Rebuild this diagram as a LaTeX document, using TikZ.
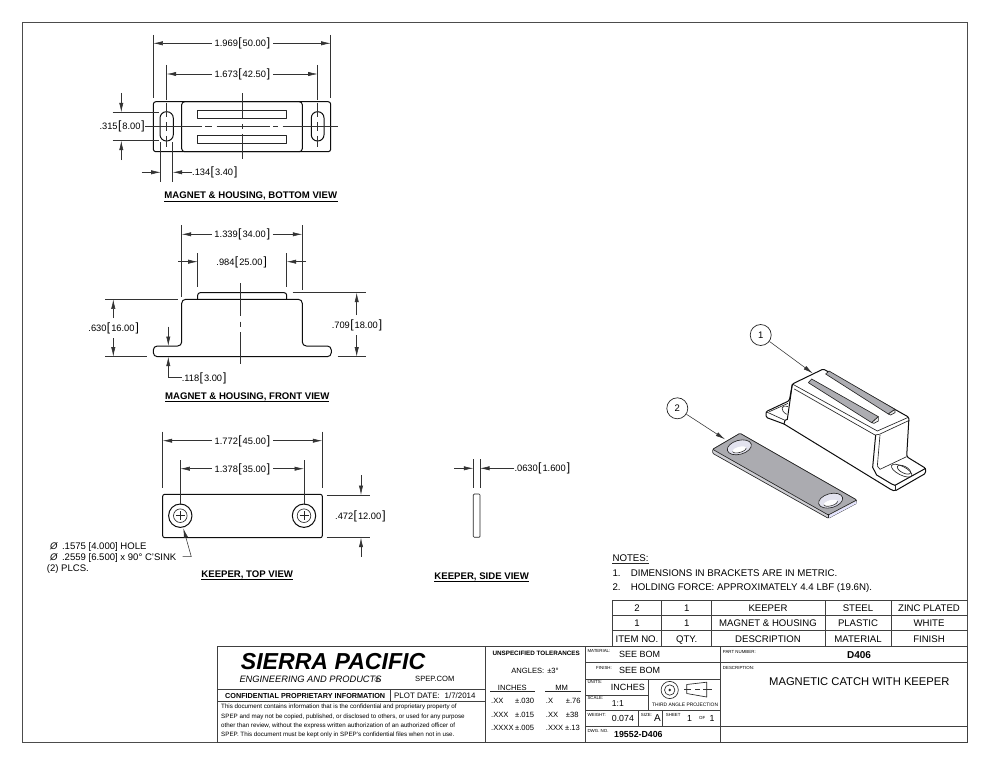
\documentclass[tikz,border=0pt]{standalone}
\usepackage{fontspec}
\setmainfont{Liberation Sans}
\usetikzlibrary{arrows.meta,calc}
\newcommand{\fsz}[1]{\fontsize{#1}{#1}\selectfont}
\newcommand{\dmt}[2]{#1\kern.4pt{\fsz{12}[}\kern1pt #2\kern1pt{\fsz{12}]}}
\definecolor{plate}{HTML}{ABABB0}
\definecolor{plateside}{HTML}{CFCFD4}
\definecolor{bore}{HTML}{E2E2EE}
\definecolor{rail}{HTML}{ADADB2}
\tikzset{
  lab/.style={inner sep=0pt,text=black},
  dimtxt/.style={lab,font=\fsz{9.3}},
  part/.style={draw=black!95,line width=1pt,line join=round},
  thin part/.style={draw=black!85,line width=0.65pt,line join=round},
  ext/.style={draw=black!80,line width=0.55pt},
  arr/.style={draw=black!80,line width=0.55pt,-{Latex[length=9.5pt,width=4.2pt]}},
  cl/.style={draw=black!80,line width=0.55pt},
  grid/.style={draw=black!75,line width=0.85pt},
  title/.style={draw=black,line width=0.9pt},
}
% name, size, anchor, x, y(centre of capitals), text
\newcommand{\lab}[6]{\node[lab,anchor=#3,font=\fsz{#2}] (#1) at ({#4},{#5+0.36*#2}) {#6};}
% horizontal dimension: name, inch, mm, text centre x, y, left end, right end
\newcommand{\dimh}[7]{%
  \node[dimtxt,anchor=base] (#1) at ({#4},{#5+3.3}) {\dmt{#2}{#3}};
  \coordinate (#1-l) at (#6,#5); \coordinate (#1-r) at (#7,#5);
  \draw[arr] ($(#1.west |- #1-l)+(-2.5,0)$) -- (#1-l);
  \draw[arr] ($(#1.east |- #1-r)+(2.5,0)$) -- (#1-r);}
% dimension text at an edge: name, inch, mm, anchor, x, y
\newcommand{\dimt}[6]{\node[dimtxt,anchor=#4] (#1) at ({#5},{#6+3.3}) {\dmt{#2}{#3}};}
\begin{document}
\begin{tikzpicture}[x=1pt,y=-1pt]
\useasboundingbox (0,0) rectangle (990,765);
\fill[white] (0,0) rectangle (990,765);
% sheet frame
\draw[draw=black!70,line width=0.9pt] (22,22) rectangle (967.5,742);

%% ---------- bottom view
\draw[part] [rounded corners=2.5pt] (153.3,101.7) rectangle (330.7,151.7);
\draw[part] [rounded corners=3pt] (181.7,101.7) rectangle (302.3,151.7);
\draw[thin part] (197.3,110.3) rectangle (286.3,118.3);
\draw[thin part] (197.3,135.3) rectangle (286.3,143.3);
\draw[part] [rounded corners=6.4pt] (160,111.7) rectangle (173.3,141);
\draw[part] [rounded corners=6.2pt] (311.3,111.7) rectangle (324,141);
\foreach \a/\b in {145/201.7,205/211.7,216.7/270,273.3/278.3,282.7/338} \draw[cl] (\a,126.7)--(\b,126.7);
\foreach \a/\b in {93.3/118,124/129,134/159.3} \draw[cl] (242.3,\a)--(242.3,\b);
\foreach \x in {166.7,317.7}{\foreach \a/\b in {102.7/117,122/131,136/146.7} \draw[cl] (\x,\a)--(\x,\b);}
\dimh{da}{1.969}{50.00}{242.5}{43.3}{153.3}{330.7}
\draw[ext] (153.3,35)--(153.3,98); \draw[ext] (330.7,35)--(330.7,98);
\dimh{db}{1.673}{42.50}{242.5}{74}{166.7}{317.7}
\draw[ext] (166.7,65)--(166.7,100); \draw[ext] (317.7,65)--(317.7,100);
\draw[ext] (112.7,112.3)--(159,112.3); \draw[ext] (112.7,140.7)--(159,140.7);
\coordinate (dc-t) at (121.3,93); \coordinate (dc-b) at (121.3,160);
\draw[arr] (dc-t)--(121.3,112.3); \draw[arr] (dc-b)--(121.3,140.7);
\dimt{dc}{.315}{8.00}{base east}{145}{126.7}
\draw[ext] (160.7,142)--(160.7,181.7); \draw[ext] (172.7,142)--(172.7,181.7);
\dimt{dd}{.134}{3.40}{base west}{192}{172.3}
\draw[arr] (141.7,172.3)--(160.7,172.3);
\draw[arr] (dd.west |- 0,172.3)--(172.7,172.3);
\lab{ta}{9.6}{base}{250.8}{195}{\bfseries MAGNET \& HOUSING, BOTTOM VIEW}
\draw[title] (164,201)--(337.7,201);

%% ---------- front view
\draw[part] [rounded corners=2.5pt] (197.7,299.3)--(197.7,292.7)--(286.7,292.7)--(286.7,299.3);
\draw[part] [rounded corners=4pt] (153.3,356.7)--(153.3,346)--(181.7,346)--(181.7,299.3)--(302.3,299.3)--(302.3,346)--(331.3,346)--(331.3,356.7)--cycle;
\foreach \a/\b in {283.3/316,321.7/326.7,332/364.3} \draw[cl] (240.3,\a)--(240.3,\b);
\dimh{de}{1.339}{34.00}{242.3}{234.3}{181.7}{302.3}
\draw[ext] (181.7,225)--(181.7,297.3); \draw[ext] (302.3,225)--(302.3,290);
\dimt{df}{.984}{25.00}{base}{241.7}{261.7}
\draw[arr] (178.3,261.7)--(197.7,261.7); \draw[arr] (306,261.7)--(286.7,261.7);
\draw[ext] (197.7,253.3)--(197.7,286.7); \draw[ext] (286.7,253.3)--(286.7,286.7);
\draw[ext] (105,299.3)--(178.3,299.3); \draw[ext] (105,356.7)--(146.7,356.7);
\dimt{dg}{.630}{16.00}{base}{113.7}{328.3}
\draw[arr] (113.3,318)--(113.3,299.3); \draw[arr] (113.3,338)--(113.3,356.7);
\draw[ext] (292.7,292.7)--(366,292.7); \draw[ext] (337.7,356.7)--(366,356.7);
\dimt{dh}{.709}{18.00}{base}{357}{325}
\draw[arr] (356.7,315)--(356.7,292.7); \draw[arr] (356.7,335)--(356.7,356.7);
\draw[arr] (168.3,326.7)--(168.3,346);
\dimt{di}{.118}{3.00}{base west}{181.7}{377.7}
\draw[arr] (di.west |- 0,377.5)--(168.3,377.5)--(168.3,356.7);
\lab{tb}{9.6}{base}{247.3}{395.7}{\bfseries MAGNET \& HOUSING, FRONT VIEW}
\draw[title] (165.3,401)--(329.3,401);

%% ---------- keeper, top view
\draw[part] [rounded corners=2pt] (162.7,494.3) rectangle (322.3,537.7);
\foreach \x in {180.3,304}{
  \draw[part] (\x,515.7) circle (11.7);
  \draw[thin part] (\x,515.7) circle (6.8);
  \draw[thin part] (\x-4.5,515.7)--(\x+4.5,515.7) (\x,511.2)--(\x,520.2);}
\dimh{dj}{1.772}{45.00}{242.5}{440.7}{162.7}{322.3}
\draw[ext] (162.7,431.7)--(162.7,488.3); \draw[ext] (322.3,431.7)--(322.3,488.3);
\dimh{dk}{1.378}{35.00}{242.5}{468.7}{180.3}{304}
\draw[ext] (180.3,460)--(180.3,505); \draw[ext] (304,460)--(304,505);
\draw[ext] (326.7,495)--(370,495); \draw[ext] (326.7,537.7)--(370,537.7);
\dimt{dl}{.472}{12.00}{base west}{335}{516.3}
\draw[arr] (361,475)--(361,495); \draw[arr] (361,556.7)--(361,537.7);
\lab{na}{9.55}{base west}{50}{545.7}{\textit{Ø}\kern4pt.1575 [4.000] HOLE}
\lab{nb}{9.55}{base west}{50}{556.7}{\textit{Ø}\kern4pt.2559 [6.500] x 90° C'SINK}
\lab{nc}{9.55}{base west}{46.7}{567.7}{(2) PLCS.}
\draw[arr] ($(nb.east |- 0,556.7)+(6,0)$)--(191.3,556.7)--(183.3,528.3);
\lab{tc}{9.6}{base}{247.2}{574}{\bfseries KEEPER, TOP VIEW}
\draw[title] (201,579.5)--(293.3,579.5);

%% ---------- keeper, side view
\draw[thin part] [rounded corners=1pt] (473.3,494) rectangle (480,537.3);
\draw[ext] (473.3,459.3)--(473.3,487.7); \draw[ext] (480,459.3)--(480,487.7);
\dimt{dm}{.0630}{1.600}{base west}{514.3}{468.3}
\draw[arr] (454,468.3)--(473.3,468.3); \draw[arr] (dm.west |- 0,468.3)--(480,468.3);
\lab{td}{9.6}{base}{481.7}{575.7}{\bfseries KEEPER, SIDE VIEW}
\draw[title] (434.3,581)--(529,581);

%% ---------- isometric magnet & housing (coordinates of a 3x crop)
\begin{scope}[shift={(760,360)},x=0.3333pt,y=-0.3333pt]
  \filldraw[part,fill=white,rounded corners=1.5pt] (18,155)--(88,122)--(97,72)--(190,27)--(447,172)--(440,290)--(497,325)--(497,340)--(405,393)--(395,390)--(72,192)--(18,172)--cycle;
  \draw[thin part] (97,72)--(352,213)--(445,172);
  \draw[thin part] (103,87)--(345,225)--(358,223)--(448,181);
  \draw[part] (347,225)--(338,322)--(350,345)--(395,372)--(405,376)--(497,325);
  \draw[thin part] (360,225)--(352,318)--(360,328)--(440,290);
  \draw[thin part] (405,376)--(405,393);
  \draw[part] (97,72)--(82,178)--(75,181)--(72,192);
  \draw[thin part] (18,155)--(75,181);
  \draw[thin part] (28,155)--(84,130);
  \draw[thin part] (84,140) .. controls (62,132) and (60,152) .. (80,163);
  \draw[thin part,rotate around={-27:(425,332)}] (425,332) ellipse (34 and 13);
  \draw[thin part,rotate around={-27:(432,329)}] (432,329) ellipse (22 and 10);
  % rails
  \filldraw[thin part,fill=rail] (197,42)--(207,33)--(405,148)--(385,162)--cycle;
  \filldraw[thin part,fill=black!8] (385,162)--(405,148)--(405,158)--(392,165)--cycle;
  \filldraw[thin part,fill=rail] (145,68)--(155,57)--(355,170)--(335,188)--cycle;
  \filldraw[thin part,fill=black!8] (335,188)--(355,170)--(355,183)--(342,190)--cycle;
\end{scope}

%% ---------- isometric keeper
\begin{scope}[shift={(660,390)},x=0.3333pt,y=-0.3333pt]
  \filldraw[thin part,fill=plateside,rounded corners=1pt] (158,178)--(158,190)--(505,385)--(590,340)--(590,330)--(240,130)--cycle;
  \filldraw[thin part,fill=plate,rounded corners=1pt] (158,178)--(240,130)--(590,330)--(505,375)--cycle;
  \fill[blue!10!white] (510,375)--(590,334)--(590,340)--(505,385)--cycle;
  \draw[thin part] (505,375)--(505,385);
  \foreach \cx/\cy in {238/172,512/332}{
    \filldraw[thin part,fill=bore,rotate around={15:(\cx,\cy)}] (\cx,\cy) ellipse (37 and 21);
    \fill[white,rotate around={15:(\cx,\cy+7)}] (\cx,\cy+7) ellipse (21 and 8.5);
    \draw[black!80,line width=0.6pt,rotate around={15:(\cx,\cy+7)}] (\cx-21,\cy+7) arc (180:360:21 and -8.5);}
\end{scope}

%% ---------- balloons
\node[draw=black!85,line width=0.7pt,circle,minimum size=21pt,inner sep=0pt,text=black,font=\fsz{9.5}] (bal1) at (760.7,335) {1};
\node[draw=black!85,line width=0.7pt,circle,minimum size=21pt,inner sep=0pt,text=black,font=\fsz{9.5}] (bal2) at (677.3,408.3) {2};
\coordinate (tip1) at (812.7,373.3);
\coordinate (tip2) at (725,439.3);
\draw[arr] (bal1)--(tip1);
\draw[arr] (bal2)--(tip2);

%% ---------- notes
\lab{n0}{9.7}{base west}{612.3}{558.3}{NOTES:}
\draw[black!85,line width=0.5pt] (612.3,563.2)--(648.6,563.2);
\lab{n1}{9.7}{base west}{612.3}{572.7}{1.}
\lab{n1t}{9.7}{base west}{630.7}{572.7}{DIMENSIONS IN BRACKETS ARE IN METRIC.}
\lab{n2}{9.7}{base west}{612.3}{586.7}{2.}
\lab{n2t}{9.7}{base west}{630.7}{586.7}{HOLDING FORCE: APPROXIMATELY 4.4 LBF (19.6N).}

%% ---------- bill of materials
\draw[grid] (612.3,600)--(967.5,600) (612.3,615.3)--(967.5,615.3) (612.3,630.7)--(967.5,630.7);
\draw[grid] (612.3,600)--(612.3,646) (661.7,600)--(661.7,646) (711.7,600)--(711.7,646) (825,600)--(825,646) (891.7,600)--(891.7,646);
\lab{b11}{9.6}{base}{637}{607.7}{2}
\lab{b12}{9.6}{base}{686.7}{607.7}{1}
\lab{b13}{9.6}{base}{768}{607.7}{KEEPER}
\lab{b14}{9.6}{base}{858}{607.7}{STEEL}
\lab{b15}{9.6}{base}{929}{607.7}{ZINC PLATED}
\lab{b21}{9.6}{base}{637}{623}{1}
\lab{b22}{9.6}{base}{686.7}{623}{1}
\lab{b23}{9.6}{base}{768}{623}{MAGNET \& HOUSING}
\lab{b24}{9.6}{base}{858}{623}{PLASTIC}
\lab{b25}{9.6}{base}{929}{623}{WHITE}
\lab{b31}{9.6}{base}{637}{638.7}{ITEM NO.}
\lab{b32}{9.6}{base}{686.7}{638.7}{QTY.}
\lab{b33}{9.6}{base}{768}{638.7}{DESCRIPTION}
\lab{b34}{9.6}{base}{858}{638.7}{MATERIAL}
\lab{b35}{9.6}{base}{929}{638.7}{FINISH}

%% ---------- title block grid
\draw[grid] (217.3,646) rectangle (967.5,742);
\draw[grid] (217.3,689)--(485,689) (217.3,701)--(485,701) (390,689)--(390,701);
\draw[grid] (485,646)--(485,742) (585,646)--(585,742) (720,646)--(720,742);
\draw[grid] (585,662.7)--(720,662.7) (585,679.3)--(720,679.3) (585,695.3)--(648.3,695.3) (585,710.7)--(720,710.7) (585,726.7)--(967.5,726.7);
\draw[grid] (648.3,679.3)--(648.3,710.7) (638.3,710.7)--(638.3,726.7) (662.7,710.7)--(662.7,726.7);
\draw[grid] (720,662.7)--(967.5,662.7);

%% company block
\lab{co}{23.1}{base west}{240.7}{660.7}{\bfseries\itshape SIERRA PACIFIC}
\lab{co2}{9.3}{base west}{239.3}{679}{\itshape ENGINEERING AND PRODUCTS}
\lab{reg}{7}{base west}{374.5}{680}{®}
\lab{co3}{7.6}{base west}{415}{679}{SPEP.COM}
\lab{cf}{7.24}{base west}{225}{695.7}{\bfseries CONFIDENTIAL PROPRIETARY INFORMATION}
\lab{pd}{7.9}{base west}{394}{695.7}{PLOT DATE:\kern5pt 1/7/2014}
\lab{p1}{6.23}{base west}{221}{706.7}{This document contains information that is the confidential and proprietary property of}
\lab{p2}{6.23}{base west}{221}{716.7}{SPEP and may not be copied, published, or disclosed to others, or used for any purpose}
\lab{p3}{6.23}{base west}{221}{725.3}{other than review, without the express written authorization of an authorized officer of}
\lab{p4}{6.23}{base west}{221}{734.3}{SPEP. This document must be kept only in SPEP's confidential files when not in use.}

%% tolerances
\lab{t0}{6.3}{base west}{492.3}{653.3}{\bfseries UNSPECIFIED TOLERANCES}
\lab{t1}{7.6}{base}{535}{671}{ANGLES:\kern3pt ±3°}
\lab{t2}{7.6}{base}{512.3}{687.7}{INCHES}
\lab{t3}{7.6}{base}{561.7}{687.7}{MM}
\draw[black!85,line width=0.6pt] (490,691.7)--(535,691.7) (545,691.7)--(581,691.7);
\lab{t4a}{7.6}{base west}{491}{701}{.XX}
\lab{t4b}{7.6}{base west}{515}{701}{±.030}
\lab{t4c}{7.6}{base west}{545.7}{701}{.X}
\lab{t4d}{7.6}{base west}{565.7}{701}{±.76}
\lab{t5a}{7.6}{base west}{491}{714.7}{.XXX}
\lab{t5b}{7.6}{base west}{515}{714.7}{±.015}
\lab{t5c}{7.6}{base west}{545.7}{714.7}{.XX}
\lab{t5d}{7.6}{base west}{565.7}{714.7}{±38}
\lab{t6a}{7.6}{base west}{491}{727.7}{.XXXX}
\lab{t6b}{7.6}{base west}{515}{727.7}{±.005}
\lab{t6c}{7.6}{base west}{545.7}{727.7}{.XXX}
\lab{t6d}{7.6}{base west}{565}{727.7}{±.13}

%% material block
\lab{m1}{4.4}{base west}{587.3}{651}{MATERIAL:}
\lab{m2}{9}{base west}{619}{654.7}{SEE BOM}
\lab{m3}{4.4}{base west}{596}{667.7}{FINISH:}
\lab{m4}{9}{base west}{619}{670.7}{SEE BOM}
\lab{m5}{4.4}{base west}{587.3}{682.3}{UNITS:}
\lab{m6}{9}{base west}{610.7}{687.7}{INCHES}
\lab{m7}{4.4}{base west}{587.3}{697.7}{SCALE:}
\lab{m8}{8.6}{base west}{611.7}{703.3}{1:1}
\lab{m9}{4.4}{base west}{587.3}{715}{WEIGHT:}
\lab{m10}{8.8}{base west}{611.7}{718.3}{0.074}
\lab{m11}{4.4}{base west}{640.7}{715}{SIZE:}
\lab{m12}{10}{base west}{654}{718.3}{A}
\lab{m13}{4.4}{base west}{665.7}{715}{SHEET}
\lab{m14}{8.8}{base}{689.5}{718.3}{1}
\lab{m15}{4.4}{base west}{699}{718.3}{OF}
\lab{m16}{8.8}{base}{712}{718.3}{1}
\lab{m17}{4.4}{base west}{587.3}{730.7}{DWG. NO.}
\lab{m18}{8.8}{base west}{614}{734.7}{\bfseries 19552-D406}

%% third angle symbol
\draw[thin part] (669.7,690) circle (8.6);
\draw[thin part] (669.7,690) circle (5.2);
\fill[black!85] (669.7,690) circle (1.3);
\draw[thin part] (686.7,684.5)--(706.7,682.2)--(706.7,697)--(686.7,693.5)--cycle;
\foreach \a/\b in {684/691,695/700,703/712} \draw[cl] (\a,689.5)--(\b,689.5);
\lab{ta3}{4.9}{base west}{652}{705}{THIRD ANGLE PROJECTION}

%% part number block
\lab{q1}{4.4}{base west}{722.7}{652}{PART NUMBER:}
\lab{q2}{10}{base}{859}{654.7}{\bfseries D406}
\lab{q3}{4.4}{base west}{722.7}{668}{DESCRIPTION:}
\lab{q4}{11.2}{base west}{769}{681}{MAGNETIC CATCH WITH KEEPER}
\end{tikzpicture}
\end{document}
